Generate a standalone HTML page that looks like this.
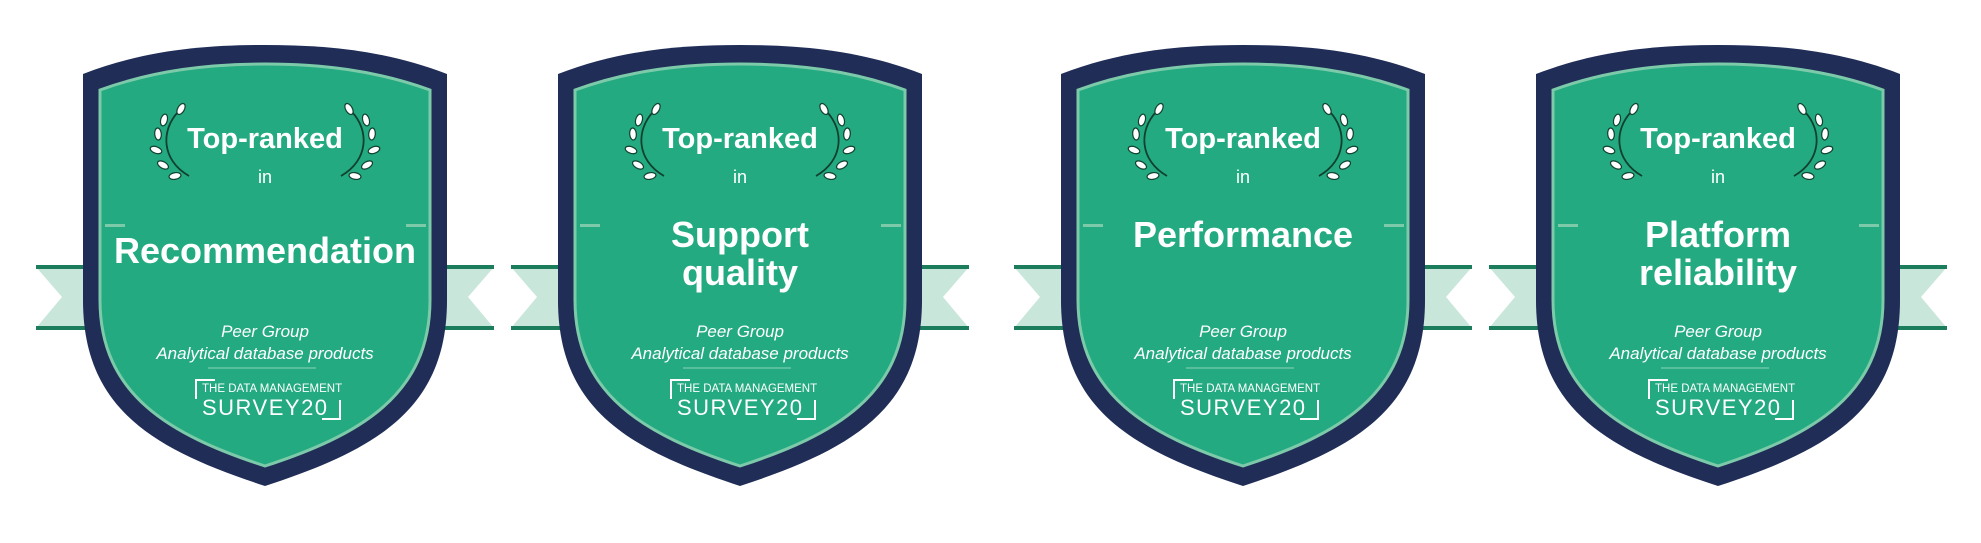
<!DOCTYPE html>
<html><head><meta charset="utf-8">
<style>
html,body{margin:0;padding:0;background:#fff;width:1981px;height:543px;overflow:hidden}
svg{display:block}
text{font-family:"Liberation Sans",sans-serif;fill:#fff;text-anchor:middle}
.t1{font-size:29px;font-weight:bold}
.t2{font-size:18px}
.t3{font-size:36px;font-weight:bold}
.t4{font-size:17px;font-style:italic}
.t5{font-size:11.5px;text-anchor:start}
.t6{font-size:22px;text-anchor:start;letter-spacing:1.5px}
</style></head><body>
<svg width="1981" height="543" viewBox="0 0 1981 543" xmlns="http://www.w3.org/2000/svg">
<defs>
<g id="leaf"><ellipse rx="6" ry="3.3" fill="#fff" stroke="#12402f" stroke-width="1.2"/></g>
<g id="laurel">
 <path d="M-87,-28 C-104,-10 -104,20 -76,36" fill="none" stroke="#12402f" stroke-width="1.8"/>
 <use href="#leaf" transform="translate(-84,-31) rotate(-60)"/>
 <use href="#leaf" transform="translate(-101,-20) rotate(-75)"/>
 <use href="#leaf" transform="translate(-107,-6) rotate(-95)"/>
 <use href="#leaf" transform="translate(-109,10) rotate(20)"/>
 <use href="#leaf" transform="translate(-102,25) rotate(30)"/>
 <use href="#leaf" transform="translate(-90,36) rotate(-10)"/>
</g>
<g id="badge">
 <polygon points="-229,267 229,267 203,297 229,328 -229,328 -203,297" fill="#c8e6da"/>
 <rect x="-229" y="265" width="458" height="4" fill="#1b7d5c"/>
 <rect x="-229" y="326" width="458" height="4" fill="#1b7d5c"/>
 <path d="M-182,74 C-120,50 -60,45 0,45 C60,45 120,50 182,74 L182,300 C182,410 110,450 0,486 C-110,450 -182,410 -182,300 Z" fill="#1f2d57"/>
 <path d="M-165,90 C-110,70 -55,64 0,64 C55,64 110,70 165,90 L165,300 C165,395 95,435 0,466 C-95,435 -165,395 -165,300 Z" fill="#23aa80" stroke="#7ccaa9" stroke-width="3"/>
 <rect x="-160" y="224" width="20" height="3" fill="#7ccaa9"/>
 <rect x="141" y="224" width="20" height="3" fill="#7ccaa9"/>
 <use href="#laurel" transform="translate(0,140)"/>
 <use href="#laurel" transform="translate(0,140) scale(-1,1)"/>
 <line x1="-57" y1="368" x2="51" y2="368" stroke="#8fd3b6" stroke-width="1"/>
 <path d="M-69,399 V380 H-50" fill="none" stroke="#fff" stroke-width="2"/>
 <path d="M57,419 H75 V400" fill="none" stroke="#fff" stroke-width="2"/>
</g>
</defs>

<g transform="translate(265,0)"><use href="#badge"/>
 <text class="t1" x="0" y="148">Top-ranked</text><text class="t2" x="0" y="183">in</text>
 <text class="t3" x="0" y="263">Recommendation</text>
 <text class="t4" x="0" y="337">Peer Group</text><text class="t4" x="0" y="359">Analytical database products</text>
 <text class="t5" x="-63" y="392">THE DATA MANAGEMENT</text><text class="t6" x="-63" y="415">SURVEY20</text></g>

<g transform="translate(740,0)"><use href="#badge"/>
 <text class="t1" x="0" y="148">Top-ranked</text><text class="t2" x="0" y="183">in</text>
 <text class="t3" x="0" y="247">Support</text><text class="t3" x="0" y="285">quality</text>
 <text class="t4" x="0" y="337">Peer Group</text><text class="t4" x="0" y="359">Analytical database products</text>
 <text class="t5" x="-63" y="392">THE DATA MANAGEMENT</text><text class="t6" x="-63" y="415">SURVEY20</text></g>

<g transform="translate(1243,0)"><use href="#badge"/>
 <text class="t1" x="0" y="148">Top-ranked</text><text class="t2" x="0" y="183">in</text>
 <text class="t3" x="0" y="247">Performance</text>
 <text class="t4" x="0" y="337">Peer Group</text><text class="t4" x="0" y="359">Analytical database products</text>
 <text class="t5" x="-63" y="392">THE DATA MANAGEMENT</text><text class="t6" x="-63" y="415">SURVEY20</text></g>

<g transform="translate(1718,0)"><use href="#badge"/>
 <text class="t1" x="0" y="148">Top-ranked</text><text class="t2" x="0" y="183">in</text>
 <text class="t3" x="0" y="247">Platform</text><text class="t3" x="0" y="285">reliability</text>
 <text class="t4" x="0" y="337">Peer Group</text><text class="t4" x="0" y="359">Analytical database products</text>
 <text class="t5" x="-63" y="392">THE DATA MANAGEMENT</text><text class="t6" x="-63" y="415">SURVEY20</text></g>
</svg>
</body></html>
